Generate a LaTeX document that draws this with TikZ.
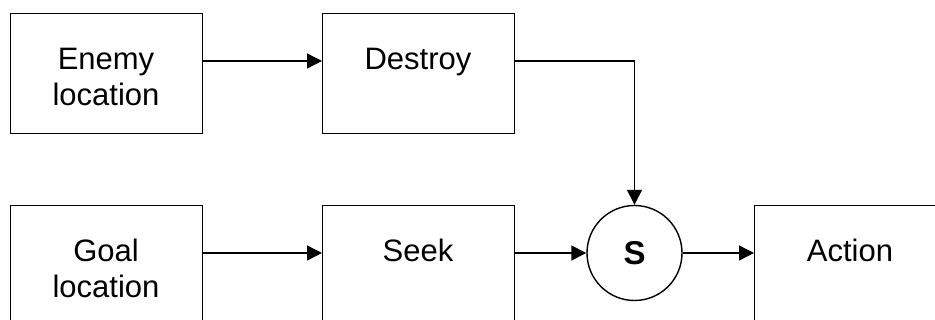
\documentclass[tikz,border=0pt]{standalone}
\usepackage{fontspec}
\setmainfont{Liberation Sans}
\usetikzlibrary{arrows.meta}
\tikzset{
  blk/.style={draw, line width=1.4pt, rectangle, minimum width=192pt, minimum height=120pt, anchor=north west, inner sep=0pt},
  sumnode/.style={draw, line width=1.4pt, circle, minimum size=95pt, inner sep=0pt, font=\fontsize{33}{36}\selectfont\bfseries},
  lbl/.style={anchor=base, inner sep=0pt, font=\fontsize{31}{36}\selectfont},
  arr/.style={line width=1.4pt, -{Triangle[length=15pt,width=15pt]}}
}
\begin{document}
\begin{tikzpicture}[x=1pt,y=-1pt]
\useasboundingbox (0,0) rectangle (935,320);
\clip (0,0) rectangle (935,320);
\fill[white] (0,0) rectangle (935,320);
% boxes
\node[blk] (enemy) at (10,13) {};
\node[blk] (destroy) at (322,13) {};
\node[blk] (goal) at (10,205) {};
\node[blk] (seek) at (322,205) {};
\node[blk] (action) at (754,205) {};
\node[sumnode] (s) at (634.5,253) {S};
% labels
\node[lbl] (t1) at (106,70) {Enemy};
\node[lbl] (t2) at (106,106) {location};
\node[lbl] (t3) at (418,70) {Destroy};
\node[lbl] (t4) at (106,262) {Goal};
\node[lbl] (t5) at (106,298) {location};
\node[lbl] (t6) at (418,262) {Seek};
\node[lbl] (t7) at (850,262) {Action};
% connectors
\draw[arr] ([yshift=-48pt]enemy.north east) -- ([yshift=-48pt]destroy.north west);
\draw[arr] ([yshift=-48pt]destroy.north east) -| (s.north);
\draw[arr] ([yshift=-48pt]goal.north east) -- ([yshift=-48pt]seek.north west);
\draw[arr] ([yshift=-48pt]seek.north east) -- (s.west);
\draw[arr] (s.east) -- ([yshift=-48pt]action.north west);
\end{tikzpicture}
\end{document}
